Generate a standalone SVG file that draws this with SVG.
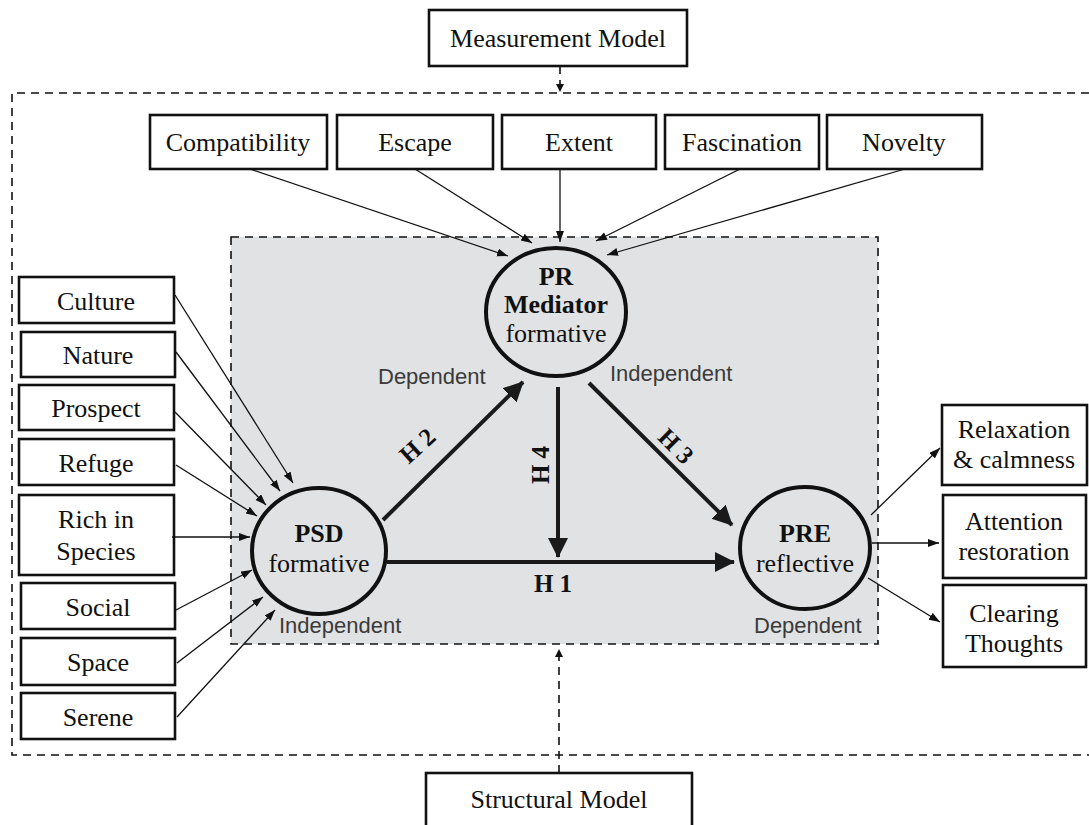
<svg xmlns="http://www.w3.org/2000/svg" width="1089" height="825" viewBox="0 0 1089 825">
<style>
.box{fill:#fff;stroke:#111;stroke-width:2.6}
.lbl{font-family:"Liberation Serif","Times New Roman",serif;font-size:26px;fill:#111;text-anchor:middle}
.bold{font-weight:bold}
.role{font-family:"Liberation Sans",Arial,sans-serif;font-size:22px;fill:#3a3a3a}
.circ{fill:none;stroke:#111;stroke-width:4}
.thin{stroke:#111;stroke-width:1.3;fill:none;marker-end:url(#sa)}
.thick{stroke:#1a1a1a;stroke-width:4;fill:none;marker-end:url(#ba)}
.dash{stroke:#111;stroke-width:1.6;fill:none;stroke-dasharray:8 6}
.hl{font-family:"Liberation Serif","Times New Roman",serif;font-size:25px;font-weight:bold;fill:#111;text-anchor:middle}
</style>
<defs>
<marker id="sa" markerUnits="userSpaceOnUse" markerWidth="12" markerHeight="9" refX="11" refY="4" orient="auto"><path d="M0,0 L11,4 L0,8 z" fill="#111"/></marker>
<marker id="ba" markerUnits="userSpaceOnUse" markerWidth="22" markerHeight="22" refX="19" refY="10" orient="auto"><path d="M0,0 L20,10 L0,20 z" fill="#1a1a1a"/></marker>
<marker id="da" markerUnits="userSpaceOnUse" markerWidth="10" markerHeight="10" refX="8" refY="4" orient="auto"><path d="M0,0 L8,4 L0,8 z" fill="#111"/></marker>
</defs>
<rect width="1089" height="825" fill="#fff"/>

<g id="frames">
<path class="dash" d="M1089,93 L12,93 L12,755 L1089,755"/>
<rect x="231" y="237" width="647" height="407" fill="#e0e2e3" stroke="#111" stroke-width="1.6" stroke-dasharray="8 6"/>
</g>

<g id="measurement-model"><rect class="box" x="429" y="10" width="258" height="56"/><text class="lbl" x="558" y="47">Measurement Model</text></g>
<g id="structural-model"><rect class="box" x="426" y="773" width="266" height="60"/><text class="lbl" x="559" y="808">Structural Model</text></g>

<g id="compatibility"><rect class="box" x="150" y="115" width="177" height="54"/><text class="lbl" x="238" y="151">Compatibility</text></g>
<g id="escape"><rect class="box" x="337" y="115" width="156" height="54"/><text class="lbl" x="415" y="151">Escape</text></g>
<g id="extent"><rect class="box" x="502" y="115" width="154" height="54"/><text class="lbl" x="579" y="151">Extent</text></g>
<g id="fascination"><rect class="box" x="665" y="115" width="154" height="54"/><text class="lbl" x="742" y="151">Fascination</text></g>
<g id="novelty"><rect class="box" x="827" y="115" width="155" height="54"/><text class="lbl" x="904" y="151">Novelty</text></g>

<g id="culture"><rect class="box" x="19" y="277" width="155" height="46"/><text class="lbl" x="96" y="310">Culture</text></g>
<g id="nature"><rect class="box" x="21" y="332" width="154" height="45"/><text class="lbl" x="98" y="364">Nature</text></g>
<g id="prospect"><rect class="box" x="19" y="385" width="155" height="45"/><text class="lbl" x="96" y="417">Prospect</text></g>
<g id="refuge"><rect class="box" x="19" y="439" width="155" height="46"/><text class="lbl" x="96" y="472">Refuge</text></g>
<g id="rich-in-species"><rect class="box" x="19" y="495" width="155" height="80"/><text class="lbl" x="96" y="528">Rich in</text><text class="lbl" x="96" y="560">Species</text></g>
<g id="social"><rect class="box" x="21" y="583" width="154" height="46"/><text class="lbl" x="98" y="616">Social</text></g>
<g id="space"><rect class="box" x="21" y="638" width="154" height="47"/><text class="lbl" x="98" y="671">Space</text></g>
<g id="serene"><rect class="box" x="21" y="693" width="154" height="46"/><text class="lbl" x="98" y="726">Serene</text></g>

<g id="relaxation"><rect class="box" x="942" y="405" width="145" height="80"/><text class="lbl" x="1014" y="438">Relaxation</text><text class="lbl" x="1014" y="468">&amp; calmness</text></g>
<g id="attention"><rect class="box" x="943" y="495" width="143" height="83"/><text class="lbl" x="1014" y="530">Attention</text><text class="lbl" x="1014" y="560">restoration</text></g>
<g id="clearing"><rect class="box" x="943" y="585" width="143" height="82"/><text class="lbl" x="1014" y="622">Clearing</text><text class="lbl" x="1014" y="652">Thoughts</text></g>

<g id="pr-mediator">
<ellipse class="circ" cx="556" cy="312" rx="70" ry="64"/>
<text class="lbl bold" x="556" y="285">PR</text>
<text class="lbl bold" x="556" y="313">Mediator</text>
<text class="lbl" x="556" y="342">formative</text>
<text class="role" x="378" y="384">Dependent</text>
<text class="role" x="610" y="381">Independent</text>
</g>
<g id="psd">
<ellipse class="circ" cx="319" cy="551" rx="67" ry="63"/>
<text class="lbl bold" x="319" y="542">PSD</text>
<text class="lbl" x="319" y="572">formative</text>
<text class="role" x="279" y="633">Independent</text>
</g>
<g id="pre">
<ellipse class="circ" cx="805" cy="548" rx="65" ry="61"/>
<text class="lbl bold" x="805" y="542">PRE</text>
<text class="lbl" x="805" y="572">reflective</text>
<text class="role" x="754" y="633">Dependent</text>
</g>

<g id="connectors">
<line class="dash" x1="560" y1="66" x2="560" y2="92" marker-end="url(#da)"/>
<line class="dash" x1="559" y1="773" x2="559" y2="649" marker-end="url(#da)"/>

<line class="thin" x1="250" y1="169" x2="508" y2="256"/>
<line class="thin" x1="415" y1="169" x2="532" y2="243"/>
<line class="thin" x1="560" y1="169" x2="560" y2="242"/>
<line class="thin" x1="740" y1="169" x2="596" y2="241"/>
<line class="thin" x1="905" y1="169" x2="607" y2="255"/>

<line class="thin" x1="175" y1="295" x2="293" y2="483"/>
<line class="thin" x1="176" y1="352" x2="280" y2="491"/>
<line class="thin" x1="175" y1="412" x2="266" y2="505"/>
<line class="thin" x1="176" y1="465" x2="257" y2="516"/>
<line class="thin" x1="172" y1="537" x2="250" y2="537"/>
<line class="thin" x1="176" y1="610" x2="252" y2="570"/>
<line class="thin" x1="177" y1="663" x2="263" y2="597"/>
<line class="thin" x1="177" y1="717" x2="275" y2="610"/>

<line class="thin" x1="871" y1="515" x2="940" y2="448"/>
<line class="thin" x1="872" y1="543" x2="939" y2="543"/>
<line class="thin" x1="868" y1="578" x2="940" y2="622"/>

<line class="thick" x1="383" y1="520" x2="523" y2="382"/>
<line class="thick" x1="558" y1="387" x2="558" y2="557"/>
<line class="thick" x1="589" y1="383" x2="732" y2="525"/>
<line class="thick" x1="387" y1="562" x2="734" y2="562"/>
</g>

<g id="hypothesis-labels">
<text class="hl" transform="translate(423,452) rotate(-42)">H 2</text>
<text class="hl" transform="translate(549,465) rotate(-90)">H 4</text>
<text class="hl" transform="translate(670,452) rotate(45)">H 3</text>
<text class="hl" x="553" y="592">H 1</text>
</g>
</svg>
